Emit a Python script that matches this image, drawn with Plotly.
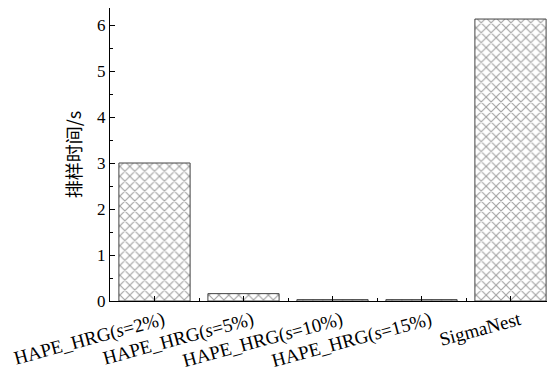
import plotly.graph_objects as go

categories = ["HAPE_HRG(<i>s</i>=2%)", "HAPE_HRG(<i>s</i>=5%)", "HAPE_HRG(<i>s</i>=10%)",
              "HAPE_HRG(<i>s</i>=15%)", "SigmaNest"]
times = [3.0, 0.16, 0.03, 0.03, 6.13]
yticks = [0, 1, 2, 3, 4, 5, 6]

xpos = list(range(len(categories)))

fig = go.Figure(go.Bar(
    x=xpos, y=times, width=0.8,
    marker=dict(color="white",
                line=dict(color="#444444", width=1),
                pattern=dict(shape="x", fgcolor="#444444", bgcolor="white", size=7, solidity=0.3)),
))

fig.update_layout(
    width=555, height=378,
    margin=dict(l=102, r=8, t=0, b=85),
    plot_bgcolor="white", paper_bgcolor="white",
    showlegend=False,
    font=dict(family="Liberation Serif", color="black"),
)
fig.update_xaxes(
    range=[-0.5, 4.5], tickvals=xpos, ticktext=categories, tickangle=-15,
    tickfont=dict(size=19, family="Liberation Serif"), automargin=False,
    ticklabelshift=9,
    showline=True, linecolor="black", linewidth=1, mirror=False,
    ticks="inside", ticklen=5, tickcolor="black", showgrid=False, zeroline=False,
    minor=dict(dtick=0.5, tick0=0.5, ticks="inside", ticklen=3, tickcolor="black"),
)
fig.update_yaxes(
    range=[0, 6.37], tickvals=yticks, automargin=False,
    tickfont=dict(size=17, family="Liberation Serif"),
    tickprefix="<b>", ticksuffix="</b>",
    showline=True, linecolor="black", linewidth=1,
    ticks="inside", ticklen=5, tickcolor="black", showgrid=False, zeroline=False,
    minor=dict(dtick=0.5, ticks="inside", ticklen=3, tickcolor="black"),
    title=dict(text="排样时间/s", font=dict(size=18, family="Noto Sans CJK SC"), standoff=10),
)
fig.write_html("out.html")
